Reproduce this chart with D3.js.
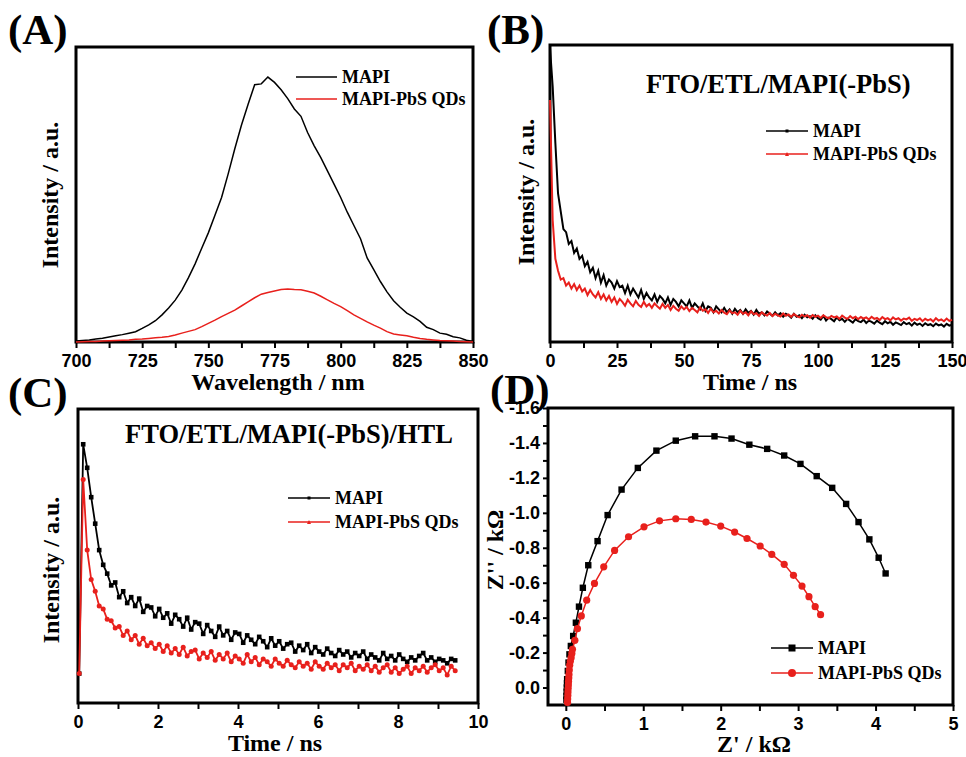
<!DOCTYPE html>
<html><head><meta charset="utf-8">
<script src="https://cdn.jsdelivr.net/npm/d3@7"></script>
<style>body{margin:0;background:#fff}svg{display:block}</style>
</head><body><svg id="c" width="966" height="757"></svg>
<script>
// ---------------- DATA ----------------
const seriesNames = ["MAPI", "MAPI-PbS QDs"];

// (A) PL spectra, wavelength grid 700..850 step 2.5 nm
const wavelengthA = d3.range(700, 850.01, 2.5);
const plMAPI = [0.003,0.005,0.007,0.010,0.013,0.017,0.021,0.025,0.030,0.035,
  0.046,0.058,0.072,0.092,0.115,0.142,0.176,0.218,0.265,0.318,
  0.370,0.430,0.490,0.570,0.655,0.735,0.805,0.872,0.875,0.898,
  0.880,0.855,0.825,0.790,0.765,0.710,0.665,0.625,0.580,0.535,
  0.490,0.440,0.395,0.350,0.285,0.245,0.205,0.170,0.140,0.118,
  0.098,0.085,0.070,0.050,0.042,0.030,0.026,0.018,0.014,0.006,0.002];
const plPbS = [0.000,0.001,0.002,0.002,0.003,0.004,0.005,0.006,0.007,0.009,
  0.010,0.012,0.014,0.016,0.019,0.024,0.030,0.036,0.042,0.052,
  0.063,0.074,0.086,0.097,0.108,0.122,0.136,0.150,0.162,0.168,
  0.173,0.178,0.180,0.178,0.177,0.172,0.166,0.155,0.143,0.131,
  0.120,0.106,0.092,0.080,0.068,0.057,0.047,0.035,0.027,0.024,
  0.021,0.016,0.012,0.009,0.007,0.005,0.004,0.003,0.002,0.001,0.000];
const ticksA = [700,725,750,775,800,825,850];

// (B) TRPL FTO/ETL/MAPI(-PbS), time grid 0..150 step 1 ns
const timeB = d3.range(0, 150.5, 1);
const trplB_MAPI = [.99,.86,.67,.50,.44,.38,.37,.33,.34,.30,
  .315,.28,.29,.255,.27,.235,.25,.215,.24,.2,
  .225,.19,.21,.2,.18,.205,.185,.19,.165,.19,
  .16,.18,.165,.15,.175,.145,.165,.15,.14,.16,
  .135,.155,.145,.13,.15,.125,.145,.135,.12,.14,
  .13,.12,.14,.115,.13,.12,.11,.13,.105,.12,
  .115,.1,.12,.11,.1,.115,.1,.11,.095,.112,
  .1,.108,.095,.11,.098,.105,.092,.108,.095,.1,
  .09,.103,.095,.088,.1,.09,.097,.085,.095,.09,
  .082,.095,.085,.09,.08,.092,.083,.087,.078,.09,
  .08,.075,.088,.072,.082,.077,.07,.083,.073,.078,
  .068,.078,.072,.065,.077,.07,.067,.075,.064,.072,
  .068,.062,.072,.065,.06,.07,.063,.068,.058,.066,
  .062,.057,.067,.06,.064,.055,.065,.058,.062,.054,
  .063,.057,.06,.053,.062,.056,.059,.052,.061,.055,
  .058];
const trplB_PbS = [.815,.41,.28,.24,.21,.215,.19,.2,.18,.195,
  .175,.19,.17,.18,.158,.175,.16,.15,.168,.145,
  .16,.14,.155,.135,.15,.128,.145,.135,.122,.142,
  .13,.12,.138,.125,.118,.135,.12,.128,.115,.13,
  .12,.112,.128,.115,.125,.108,.122,.112,.105,.12,
  .11,.118,.104,.115,.108,.1,.117,.105,.11,.098,
  .112,.1,.105,.096,.108,.099,.094,.106,.097,.1,
  .092,.105,.095,.1,.09,.103,.094,.097,.088,.1,
  .093,.089,.098,.087,.095,.09,.086,.096,.088,.093,
  .085,.094,.088,.083,.092,.086,.09,.082,.091,.085,
  .089,.081,.09,.084,.08,.088,.083,.086,.078,.089,
  .082,.078,.087,.08,.085,.077,.084,.079,.083,.076,
  .085,.078,.081,.074,.084,.077,.08,.073,.083,.076,
  .08,.072,.079,.076,.082,.071,.078,.074,.08,.07,
  .078,.073,.077,.069,.08,.072,.076,.07,.079,.071,
  .075];
const ticksB = [0,25,50,75,100,125,150];

// (C) TRPL FTO/ETL/MAPI(-PbS)/HTL, time grid 0.03..9.43 step 0.1 ns
const timeC = d3.range(0, 95).map(i => 0.03 + i * 0.1);
const trplC_MAPI = [0.10,0.88,0.80,0.70,0.61,0.52,0.47,0.44,0.40,0.41,
  0.36,0.38,0.34,0.36,0.33,0.355,0.31,0.33,0.325,0.295,
  0.32,0.29,0.305,0.27,0.30,0.285,0.26,0.29,0.25,0.275,
  0.27,0.235,0.265,0.245,0.225,0.26,0.23,0.245,0.215,0.24,
  0.235,0.205,0.23,0.215,0.2,0.225,0.21,0.19,0.22,0.195,
  0.21,0.185,0.2,0.205,0.175,0.195,0.18,0.2,0.17,0.19,
  0.175,0.165,0.185,0.17,0.16,0.18,0.165,0.175,0.155,0.17,
  0.16,0.175,0.15,0.165,0.155,0.145,0.17,0.15,0.16,0.145,
  0.165,0.15,0.14,0.155,0.145,0.16,0.17,0.145,0.155,0.14,
  0.15,0.145,0.135,0.15,0.145];
const trplC_PbS = [0.10,0.76,0.52,0.42,0.38,0.33,0.32,0.285,0.28,0.255,
  0.26,0.23,0.245,0.215,0.23,0.2,0.22,0.195,0.205,0.185,
  0.2,0.175,0.195,0.17,0.185,0.165,0.19,0.16,0.175,0.18,
  0.15,0.17,0.155,0.175,0.145,0.165,0.15,0.17,0.14,0.16,
  0.15,0.135,0.165,0.14,0.155,0.13,0.15,0.14,0.125,0.15,
  0.135,0.125,0.145,0.13,0.12,0.14,0.125,0.135,0.115,0.14,
  0.125,0.115,0.135,0.12,0.13,0.11,0.13,0.12,0.135,0.11,
  0.125,0.115,0.13,0.11,0.125,0.105,0.12,0.13,0.105,0.12,
  0.1,0.115,0.125,0.1,0.12,0.11,0.125,0.105,0.12,0.13,
  0.11,0.12,0.095,0.125,0.11];
const ticksC = [0,2,4,6,8,10];

// (D) Nyquist plots, Z' (kOhm) and Z'' (kOhm)
const zReMAPI = [0.008,0.009,0.011,0.013,0.015,0.017,0.026,0.035,0.047,0.065,0.095,0.13,0.17,0.22,0.29,0.41,0.54,0.72,0.93,1.17,1.42,1.67,1.92,2.14,2.37,2.60,2.82,3.03,3.24,3.44,3.62,3.78,3.92,4.04,4.13];
const zImMAPI = [0.07,0.048,0.024,0.0,-0.024,-0.048,-0.095,-0.143,-0.19,-0.238,-0.295,-0.371,-0.463,-0.571,-0.70,-0.838,-0.987,-1.133,-1.257,-1.356,-1.413,-1.438,-1.438,-1.425,-1.39,-1.366,-1.328,-1.28,-1.21,-1.143,-1.051,-0.947,-0.848,-0.743,-0.653];
const zRePbS = [0.022,0.024,0.026,0.028,0.03,0.033,0.035,0.038,0.041,0.045,0.05,0.058,0.069,0.078,0.086,0.117,0.15,0.20,0.27,0.37,0.49,0.63,0.81,1.01,1.21,1.42,1.62,1.81,2.0,2.18,2.34,2.51,2.66,2.82,2.94,3.05,3.14,3.22,3.29];
const zImPbS = [0.085,0.065,0.045,0.025,0.005,-0.015,-0.035,-0.055,-0.075,-0.1,-0.128,-0.15,-0.171,-0.195,-0.219,-0.27,-0.337,-0.41,-0.50,-0.596,-0.691,-0.785,-0.863,-0.92,-0.954,-0.966,-0.962,-0.947,-0.924,-0.89,-0.853,-0.81,-0.762,-0.705,-0.642,-0.581,-0.52,-0.463,-0.417];
const ticksDx = [0,1,2,3,4,5];
const ticksDy = [0.0,-0.2,-0.4,-0.6,-0.8,-1.0,-1.2,-1.4,-1.6];

// ---------------- DRAWING ----------------
const svg = d3.select("#c");
svg.append("rect").attr("width",966).attr("height",757).attr("fill","#fff");
const RED = "#e8201c";
const SERIF = "'Liberation Serif','Times New Roman',serif";
const SANS = "'Liberation Sans',Arial,sans-serif";

function styleAxis(a, labels) {
  a.select(".domain").remove();
  a.selectAll("line").attr("stroke","#000").attr("stroke-width",2);
  if (labels) a.selectAll("text").attr("fill","#000").attr("font-weight","bold")
      .style("font-family",SANS).style("font-weight","bold").style("font-size","18px");
}

function makePanel(p) {
  const x = d3.scaleLinear().domain(p.xDomain).range([p.left, p.right]);
  const y = d3.scaleLinear().domain(p.yDomain).range([p.bottom, p.top]);
  const g = svg.append("g");
  const mi = g.append("g").attr("transform",`translate(0,${p.bottom})`)
    .call(d3.axisBottom(x).tickValues(p.xMinor).tickSize(6).tickFormat(""));
  styleAxis(mi, false);
  const ma = g.append("g").attr("transform",`translate(0,${p.bottom})`)
    .call(d3.axisBottom(x).tickValues(p.xMajor).tickSize(6).tickPadding(6).tickFormat(p.xFmt || d3.format("d")));
  styleAxis(ma, true);
  g.append("rect").attr("x",p.left).attr("y",p.top)
    .attr("width",p.right-p.left).attr("height",p.bottom-p.top)
    .attr("fill","none").attr("stroke","#000").attr("stroke-width",3);
  g.append("text").attr("x",p.xTitle[0]).attr("y",p.xTitle[1]).attr("text-anchor","middle")
    .style("font-family",SERIF).style("font-weight","bold").style("font-size","24px").text(p.xLabel);
  g.append("text").attr("transform",`translate(${p.yTitle[0]},${p.yTitle[1]}) rotate(-90)`)
    .attr("text-anchor","middle")
    .style("font-family",SERIF).style("font-weight","bold").style("font-size","24px").text(p.yLabel);
  g.append("text").attr("x",p.tag[0]).attr("y",p.tag[1])
    .style("font-family",SERIF).style("font-weight","bold").style("font-size","43px").text(p.tagText);
  return {g, x, y};
}

function marker(g, type, cx, cy, color, s) {
  if (type === "square") {
    g.append("rect").attr("x",cx-s/2).attr("y",cy-s/2).attr("width",s).attr("height",s).attr("fill",color);
  } else if (type === "circle") {
    g.append("circle").attr("cx",cx).attr("cy",cy).attr("r",s/2).attr("fill",color);
  } else if (type === "tri") {
    g.append("path").attr("d",`M${cx},${cy-s/2}L${cx+s/2},${cy+s/2}L${cx-s/2},${cy+s/2}Z`).attr("fill",color);
  }
}

function legend(g, x0, x1, yLines, items) {
  items.forEach((it, i) => {
    const yy = yLines[i];
    g.append("line").attr("x1",x0).attr("x2",x1).attr("y1",yy).attr("y2",yy)
      .attr("stroke",it.color).attr("stroke-width",1.6);
    if (it.marker) marker(g, it.marker, (x0+x1)/2, yy, it.color, it.size);
    g.append("text").attr("x",x1+5).attr("y",yy+6)
      .style("font-family",SERIF).style("font-weight","bold").style("font-size","18px").text(it.label);
  });
}

// ---- Panel A ----
{
  const P = makePanel({left:76, right:473, top:47, bottom:342,
    xDomain:[700,850], yDomain:[0,1], xMajor:ticksA, xMinor:d3.range(712.5,850,25),
    xLabel:"Wavelength / nm", yLabel:"Intensity / a.u.",
    xTitle:[278,390], yTitle:[58,195], tag:[8,44], tagText:"(A)"});
  const line = d3.line().x((d,i)=>P.x(wavelengthA[i])).y(d=>P.y(d));
  P.g.append("path").attr("d",line(plMAPI)).attr("fill","none").attr("stroke","#000").attr("stroke-width",1.5);
  P.g.append("path").attr("d",line(plPbS)).attr("fill","none").attr("stroke",RED).attr("stroke-width",1.5);
  legend(P.g, 296, 337, [77,99], [
    {label:seriesNames[0], color:"#000"},
    {label:seriesNames[1], color:RED}]);
}

// ---- Panel B ----
{
  const P = makePanel({left:550, right:952, top:45, bottom:342,
    xDomain:[0,150], yDomain:[0,1], xMajor:ticksB, xMinor:d3.range(12.5,150,25),
    xLabel:"Time / ns", yLabel:"Intensity / a.u.",
    xTitle:[750,390], yTitle:[534,192], tag:[487,44], tagText:"(B)"});
  const line = d3.line().x((d,i)=>P.x(timeB[i])).y(d=>P.y(d));
  P.g.append("path").attr("d",line(trplB_MAPI)).attr("fill","none").attr("stroke","#000").attr("stroke-width",2);
  P.g.append("path").attr("d",line(trplB_PbS)).attr("fill","none").attr("stroke",RED).attr("stroke-width",2);
  P.g.append("text").attr("x",646).attr("y",93)
    .style("font-family",SERIF).style("font-weight","bold").style("font-size","26.5px").text("FTO/ETL/MAPI(-PbS)");
  legend(P.g, 766, 808, [131,154], [
    {label:seriesNames[0], color:"#000", marker:"square", size:3},
    {label:seriesNames[1], color:RED, marker:"tri", size:4}]);
}

// ---- Panel C ----
{
  const P = makePanel({left:78, right:478, top:409, bottom:703,
    xDomain:[0,10], yDomain:[0,1], xMajor:ticksC, xMinor:d3.range(1,10,2),
    xLabel:"Time / ns", yLabel:"Intensity / a.u.",
    xTitle:[275,751], yTitle:[59,570], tag:[8,407], tagText:"(C)"});
  const line = d3.line().x((d,i)=>P.x(timeC[i])).y(d=>P.y(d));
  P.g.append("path").attr("d",line(trplC_MAPI)).attr("fill","none").attr("stroke","#000").attr("stroke-width",1.8);
  P.g.selectAll(null).data(trplC_MAPI).join("rect")
    .attr("x",(d,i)=>P.x(timeC[i])-2.3).attr("y",d=>P.y(d)-2.3).attr("width",4.6).attr("height",4.6).attr("fill","#000");
  P.g.append("path").attr("d",line(trplC_PbS)).attr("fill","none").attr("stroke",RED).attr("stroke-width",1.8);
  P.g.selectAll(null).data(trplC_PbS).join("circle")
    .attr("cx",(d,i)=>P.x(timeC[i])).attr("cy",d=>P.y(d)).attr("r",2.5).attr("fill",RED);
  P.g.append("text").attr("x",125).attr("y",443)
    .style("font-family",SERIF).style("font-weight","bold").style("font-size","26.5px").text("FTO/ETL/MAPI(-PbS)/HTL");
  legend(P.g, 288, 330, [498,522], [
    {label:seriesNames[0], color:"#000", marker:"square", size:3},
    {label:seriesNames[1], color:RED, marker:"tri", size:4}]);
}

// ---- Panel D ----
{
  const P = makePanel({left:548, right:953, top:408, bottom:705,
    xDomain:[-0.23,5], yDomain:[0.1,-1.6], xMajor:ticksDx, xMinor:d3.range(0.5,5,1),
    xLabel:"Z' / k\u03A9", yLabel:"Z'' / k\u03A9",
    xTitle:[754,752], yTitle:[503,550], tag:[490,404], tagText:"(D)"});
  const ymi = P.g.append("g").attr("transform","translate(548,0)")
    .call(d3.axisLeft(P.y).tickValues(d3.range(-0.1,-1.6,-0.2)).tickSize(5).tickFormat(""));
  styleAxis(ymi, false);
  const yma = P.g.append("g").attr("transform","translate(548,0)")
    .call(d3.axisLeft(P.y).tickValues(ticksDy).tickSize(5).tickPadding(3)
      .tickFormat(v => (Math.abs(v) < 1e-9 ? "0.0" : v.toFixed(1))));
  styleAxis(yma, true);
  const line = d3.line();
  const ptsM = zReMAPI.map((v,i)=>[P.x(v), P.y(zImMAPI[i])]);
  const ptsP = zRePbS.map((v,i)=>[P.x(v), P.y(zImPbS[i])]);
  P.g.append("path").attr("d",line(ptsM)).attr("fill","none").attr("stroke","#000").attr("stroke-width",1.5);
  P.g.selectAll(null).data(ptsM).join("rect")
    .attr("x",d=>d[0]-3.2).attr("y",d=>d[1]-3.2).attr("width",6.4).attr("height",6.4).attr("fill","#000");
  P.g.append("path").attr("d",line(ptsP)).attr("fill","none").attr("stroke",RED).attr("stroke-width",1.5);
  P.g.selectAll(null).data(ptsP).join("circle")
    .attr("cx",d=>d[0]).attr("cy",d=>d[1]).attr("r",3.6).attr("fill",RED);
  legend(P.g, 771, 813, [648,673], [
    {label:seriesNames[0], color:"#000", marker:"square", size:7},
    {label:seriesNames[1], color:RED, marker:"circle", size:8}]);
}
</script></body></html>
